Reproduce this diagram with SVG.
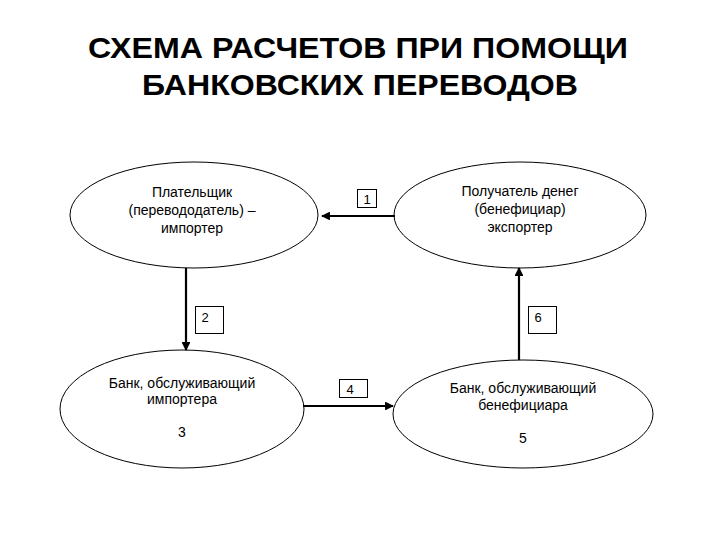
<svg xmlns="http://www.w3.org/2000/svg" width="720" height="540" viewBox="0 0 720 540">
<style>
.t{font-family:"Liberation Sans",Arial,sans-serif;fill:#000;text-anchor:middle}
.title{font-size:30px;font-weight:bold}
.lbl{font-size:14px}
.num{font-size:13px}
.node{fill:#fff;stroke:#000;stroke-width:1}
.box{fill:#fff;stroke:#000;stroke-width:1}
.conn{stroke:#000;stroke-width:2.2;fill:none;marker-end:url(#ah)}
</style>
<defs>
<marker id="ah" viewBox="0 0 10 10" refX="9" refY="5" markerWidth="4" markerHeight="4" orient="auto" markerUnits="strokeWidth">
<path d="M0,0 L10,5 L0,10 z" fill="#000"/>
</marker>
</defs>
<rect width="720" height="540" fill="#fff"/>
<text class="t title" x="358" y="58" textLength="540" lengthAdjust="spacingAndGlyphs">СХЕМА РАСЧЕТОВ ПРИ ПОМОЩИ</text>
<text class="t title" x="360" y="95" textLength="436" lengthAdjust="spacingAndGlyphs">БАНКОВСКИХ ПЕРЕВОДОВ</text>
<g id="payer">
<ellipse class="node" cx="194" cy="215" rx="124" ry="53"/>
<text class="t lbl" x="192" y="197">Плательщик</text>
<text class="t lbl" x="192" y="215">(перевододатель) –</text>
<text class="t lbl" x="192" y="233">импортер</text>
</g>
<g id="payee">
<ellipse class="node" cx="520" cy="215" rx="126" ry="53"/>
<text class="t lbl" x="520" y="196">Получатель денег</text>
<text class="t lbl" x="520" y="214">(бенефициар)</text>
<text class="t lbl" x="520" y="232">экспортер</text>
</g>
<g id="bank-importer">
<ellipse class="node" cx="182" cy="409" rx="122" ry="59"/>
<text class="t lbl" x="182" y="388">Банк, обслуживающий</text>
<text class="t lbl" x="182" y="404">импортера</text>
<text class="t lbl" x="182" y="437">3</text>
</g>
<g id="bank-beneficiary">
<ellipse class="node" cx="523" cy="414" rx="130" ry="54"/>
<text class="t lbl" x="523" y="393">Банк, обслуживающий</text>
<text class="t lbl" x="523" y="410">бенефициара</text>
<text class="t lbl" x="523" y="443">5</text>
</g>
<g id="connectors">
<line class="conn" x1="395" y1="216" x2="322" y2="216"/>
<line class="conn" x1="186" y1="268" x2="186" y2="350"/>
<line class="conn" x1="303" y1="406" x2="393" y2="406"/>
<line class="conn" x1="519" y1="360" x2="519" y2="268"/>
</g>
<g id="labels">
<rect class="box" x="357.5" y="189.5" width="19" height="18"/>
<text class="t num" x="367" y="204">1</text>
<rect class="box" x="195.5" y="306.5" width="28" height="27"/>
<text class="t num" x="205" y="322">2</text>
<rect class="box" x="339.5" y="379.5" width="28" height="18"/>
<text class="t num" x="350" y="394">4</text>
<rect class="box" x="528.5" y="306.5" width="28" height="27"/>
<text class="t num" x="538" y="322">6</text>
</g>
</svg>
